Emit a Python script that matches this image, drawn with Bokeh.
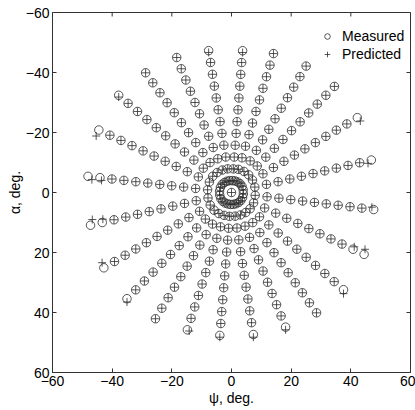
import numpy as np
from bokeh.plotting import figure
from bokeh.models import Range1d, FixedTicker
from bokeh.embed import file_html
from bokeh.resources import INLINE

# ---- data ----
# direction of each of the 24 spokes (deg, atan2(alpha, psi))
spoke_angle_deg = [-85.5, -73.1, -59.3, -45.7, -30.6, -13.0, 6.8, 24.9, 40.8, 54.6,
                   68.0, 81.2, 94.7, 107.9, 121.2, 134.7, 149.6, 167.0, 186.4, 205.1,
                   220.6, 234.2, 247.8, 260.8]
# radius of the outermost measured point of each spoke (deg)
spoke_outer_r = [47.4, 48.4, 49.0, 49.4, 49.0, 48.1, 48.0, 49.0, 49.6, 49.2,
                 48.4, 47.9, 47.8, 48.1, 49.2, 49.8, 49.6, 48.5, 48.4, 49.1,
                 49.8, 49.2, 48.6, 47.9]
# measured target rings along a spoke (deg)
ring_radii = [4, 8, 12, 16, 20, 24, 28, 32, 36, 40, 44, 48]
# offset of predicted from measured at the outermost point (deg)
pred_dx_outer = [0.0, 0.0, 0.0, 0.0, 1.0, -1.1, -0.6, 0.3, 0.0, 0.0,
                 0.0, 0.0, 0.0, 0.6, 0.0, 0.0, -0.6, 0.6, 1.3, -0.9,
                 0.0, 0.0, 0.0, 0.0]
pred_dy_outer = [0.6, 0.0, 0.0, 0.0, 1.1, 1.1, -0.8, -1.7, 1.3, 0.0,
                 0.9, 0.9, 0.6, 0.4, 0.0, 1.1, -1.7, -1.9, 1.1, 2.0,
                 0.6, 0.0, 0.0, 0.6]
# offset at the second outermost point
pred_dx_second = [0.0, 0.0, 0.0, 0.0, 0.0, 0.0, 0.0, 0.4, 0.0, 0.0,
                  0.0, 0.0, 0.0, 0.0, 0.0, 0.0, 0.0, 0.2, 0.5, 0.0,
                  0.0, 0.0, 0.0, 0.0]
pred_dy_second = [0.0, 0.0, 0.0, 0.0, 0.0, 0.0, 0.0, -0.8, 0.0, 0.0,
                  0.0, 0.0, 0.0, 0.0, 0.0, 0.0, 0.0, -1.1, 0.9, 0.0,
                  0.0, 0.0, 0.0, 0.0]
center_point = [0.0, 0.0]
tick_values = [-60, -40, -20, 0, 20, 40, 60]
axis_min, axis_max = -60, 60

# ---- build point sets ----
mx, my, px, py = [center_point[0]], [center_point[1]], [center_point[0]], [center_point[1]]
n_rings = len(ring_radii)
for s, ang in enumerate(spoke_angle_deg):
    a = np.deg2rad(ang)
    stretch = spoke_outer_r[s] / ring_radii[-1]
    for k, r0 in enumerate(ring_radii):
        r = r0 * stretch
        x, y = r * np.cos(a), r * np.sin(a)
        mx.append(x); my.append(y)
        dx = dy = 0.0
        if k == n_rings - 1:
            dx, dy = pred_dx_outer[s], pred_dy_outer[s]
        elif k == n_rings - 2:
            dx, dy = pred_dx_second[s], pred_dy_second[s]
        px.append(x + dx); py.append(y + dy)

FONT = "Liberation Sans"
W, H = 415, 410
BL, BR, BT, BB = 52, 5, 12, 38
p = figure(width=W, height=H, output_backend="svg", toolbar_location=None,
           x_range=Range1d(axis_min, axis_max), y_range=Range1d(axis_max, axis_min),
           min_border_left=BL, min_border_right=BR, min_border_top=BT, min_border_bottom=BB)
p.grid.visible = False
p.background_fill_color = "white"
p.border_fill_color = "white"
p.outline_line_color = "#333333"
p.outline_line_width = 1

mc = "#2b2b2b"
p.scatter(mx, my, marker="circle", size=8.5, fill_color=None, line_color=mc,
          line_width=0.8, legend_label="Measured")
p.scatter(px, py, marker="cross", size=8, line_color=mc, line_width=0.8,
          legend_label="Predicted")

# mirrored inward ticks on top and right edges (4 px long)
tick_px = 4
ux = tick_px * (axis_max - axis_min) / (W - BL - BR)
uy = tick_px * (axis_max - axis_min) / (H - BT - BB)
tv = np.array(tick_values, dtype=float)
p.segment(x0=tv, y0=np.full_like(tv, axis_min), x1=tv, y1=np.full_like(tv, axis_min + uy),
          line_color="#333333", line_width=1)
p.segment(x0=np.full_like(tv, axis_max), y0=tv, x1=np.full_like(tv, axis_max - ux), y1=tv,
          line_color="#333333", line_width=1)

for ax in (p.xaxis[0], p.yaxis[0]):
    ax.ticker = FixedTicker(ticks=tick_values)
    ax.major_tick_in = 4
    ax.major_tick_out = 0
    ax.minor_tick_in = 0
    ax.minor_tick_out = 0
    ax.axis_line_color = "#333333"
    ax.major_tick_line_color = "#333333"
    ax.major_label_text_font = FONT
    ax.major_label_text_font_size = "14px"
    ax.major_label_text_color = "black"
    ax.axis_label_text_font = FONT
    ax.axis_label_text_font_size = "14px"
    ax.axis_label_text_font_style = "normal"
    ax.axis_label_text_color = "black"
    ax.major_label_standoff = 3

p.xaxis[0].axis_label = "ψ, deg."
p.xaxis[0].axis_label_standoff = 1
p.yaxis[0].axis_label = "α, deg."
p.yaxis[0].axis_label_standoff = 0

lg = p.legend[0]
lg.location = (268, 309)
lg.padding = 0
lg.margin = 0
lg.spacing = 0
lg.glyph_width = 14
lg.glyph_height = 18
lg.label_height = 18
lg.label_standoff = 8
lg.border_line_color = None
lg.background_fill_alpha = 0
lg.label_text_font = FONT
lg.label_text_font_size = "14px"
lg.label_text_color = "black"

open("out.html", "w").write(file_html(p, INLINE))
